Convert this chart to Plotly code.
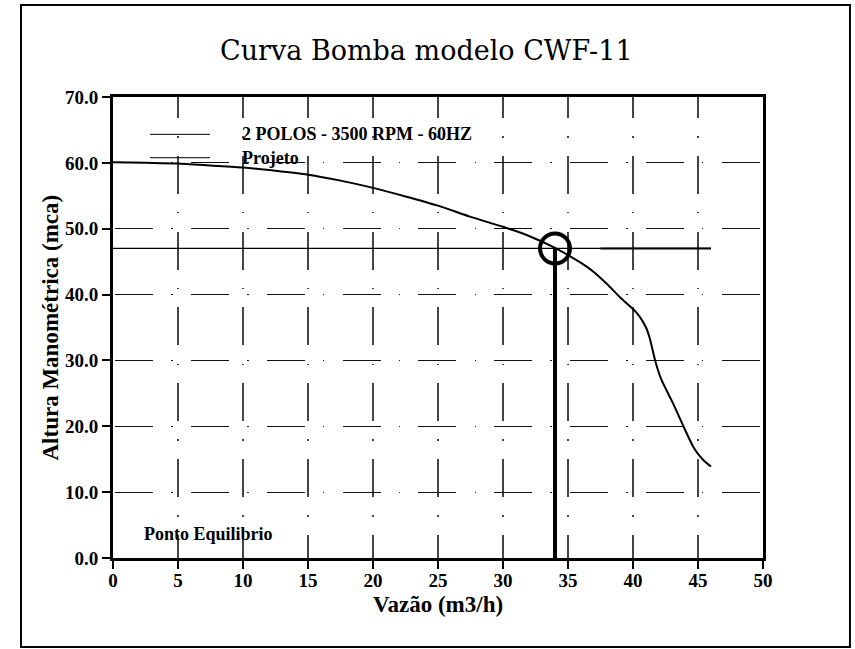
import plotly.graph_objects as go

# Pump curve: 2 poles, 3500 RPM, 60 Hz
vazao_bomba = [0, 2.5, 5, 7.5, 10, 12.5, 15, 17.5, 20, 22.5, 25, 27.5, 30, 32, 34,
               35, 36, 37, 38, 39, 40, 40.5, 41, 41.3, 41.7, 42.2, 43.1, 43.9,
               44.6, 45.0, 45.5, 46.0]
altura_bomba = [60.1, 60.0, 59.9, 59.6, 59.3, 58.8, 58.2, 57.3, 56.2, 54.9, 53.5,
                51.8, 50.3, 48.9, 47.1, 46.0, 44.8, 43.4, 41.6, 39.6, 37.8, 36.7,
                35.0, 33.3, 30.0, 27.0, 23.4, 19.9, 17.0, 15.8, 14.7, 13.9]

# Design (project) head line
vazao_projeto = [0, 46.0]
altura_projeto = [47.0, 47.0]
vazao_projeto_forte = [37.5, 46.0]

# Equilibrium point
vazao_eq = 34.0
altura_eq = 47.0

x_ticks = [0, 5, 10, 15, 20, 25, 30, 35, 40, 45, 50]
y_ticks = [0, 10, 20, 30, 40, 50, 60, 70]

legenda = ["2 POLOS - 3500 RPM - 60HZ", "Projeto"]

FONT_B = "Liberation Serif"
FONT_T = "DejaVu Serif"

fig = go.Figure()

fig.add_trace(go.Scatter(x=vazao_bomba, y=altura_bomba, mode="lines",
                         line=dict(color="black", width=2, shape="spline", smoothing=0.5),
                         showlegend=False, hoverinfo="skip"))
fig.add_trace(go.Scatter(x=vazao_projeto, y=altura_projeto, mode="lines",
                         line=dict(color="black", width=1.2),
                         showlegend=False, hoverinfo="skip"))
fig.add_trace(go.Scatter(x=vazao_projeto_forte, y=altura_projeto, mode="lines",
                         line=dict(color="black", width=2),
                         showlegend=False, hoverinfo="skip"))
fig.add_trace(go.Scatter(x=[vazao_eq, vazao_eq], y=[0, altura_eq], mode="lines",
                         line=dict(color="black", width=4),
                         showlegend=False, hoverinfo="skip"))
fig.add_trace(go.Scatter(x=[vazao_eq], y=[altura_eq], mode="markers",
                         marker=dict(symbol="circle-open", size=30, color="black",
                                     line=dict(width=4, color="black")),
                         showlegend=False, hoverinfo="skip"))

# Outer frame around the whole drawing
fig.add_shape(type="rect", xref="paper", yref="paper",
              x0=-0.1415, x1=1.1338, y0=-0.1931, y1=1.1996,
              line=dict(color="black", width=2), layer="below")

# Hand-drawn legend
leg_y = [0.919, 0.8683]
for txt, yy in zip(legenda, leg_y):
    fig.add_shape(type="line", xref="paper", yref="paper",
                  x0=0.0569, x1=0.1492, y0=yy, y1=yy,
                  line=dict(color="black", width=1))
    fig.add_annotation(x=0.1954, y=yy, xref="paper", yref="paper", text=txt,
                       showarrow=False, xanchor="left", yanchor="middle",
                       font=dict(family=FONT_B, size=18, color="black", weight="bold"))

fig.add_annotation(x=2.2, y=3.6, xref="x", yref="y", text="Ponto Equilibrio",
                   showarrow=False, xanchor="left", yanchor="middle",
                   font=dict(family=FONT_B, size=18, color="black", weight="bold"))

# Title and axis titles
fig.add_annotation(x=0.482, y=1.0998, xref="paper", yref="paper",
                   text="Curva Bomba modelo CWF-11", showarrow=False,
                   xanchor="center", yanchor="middle",
                   font=dict(family=FONT_T, size=27, color="black"))
fig.add_annotation(x=0.5, y=-0.101, xref="paper", yref="paper",
                   text="Vazão (m3/h)", showarrow=False,
                   xanchor="center", yanchor="middle",
                   font=dict(family=FONT_B, size=23, color="black", weight="bold"))
fig.add_annotation(x=-0.0969, y=0.5, xref="paper", yref="paper",
                   text="Altura Manométrica (mca)", showarrow=False, textangle=-90,
                   xanchor="center", yanchor="middle",
                   font=dict(family=FONT_B, size=23, color="black", weight="bold"))

fig.update_xaxes(range=[0, 50], tickvals=x_ticks, ticktext=[str(v) for v in x_ticks],
                 showline=True, linewidth=3, linecolor="black", mirror=True,
                 ticks="outside", ticklen=8, tickwidth=2, tickcolor="black",
                 ticklabelstandoff=-5,
                 showgrid=True, gridcolor="#444", gridwidth=2,
                 griddash="20.9px,18.2px,1.4px,18.2px,17.1px,0px",
                 zeroline=False,
                 tickfont=dict(family=FONT_B, size=19, color="black", weight="bold"))
fig.update_yaxes(range=[0, 70], tickvals=y_ticks, ticktext=[f"{v:.1f}" for v in y_ticks],
                 showline=True, linewidth=3, linecolor="black", mirror=True,
                 ticks="outside", ticklen=8, tickwidth=2, tickcolor="black",
                 showgrid=True, gridcolor="#111", gridwidth=1.2,
                 griddash="0px,2.2px,38px,18.2px,1.4px,16px",
                 zeroline=False,
                 tickfont=dict(family=FONT_B, size=19, color="black", weight="bold"))

fig.update_layout(width=855, height=649,
                  margin=dict(l=113, r=92, t=97, b=91),
                  plot_bgcolor="white", paper_bgcolor="white",
                  showlegend=False)

fig.write_html("out.html")
